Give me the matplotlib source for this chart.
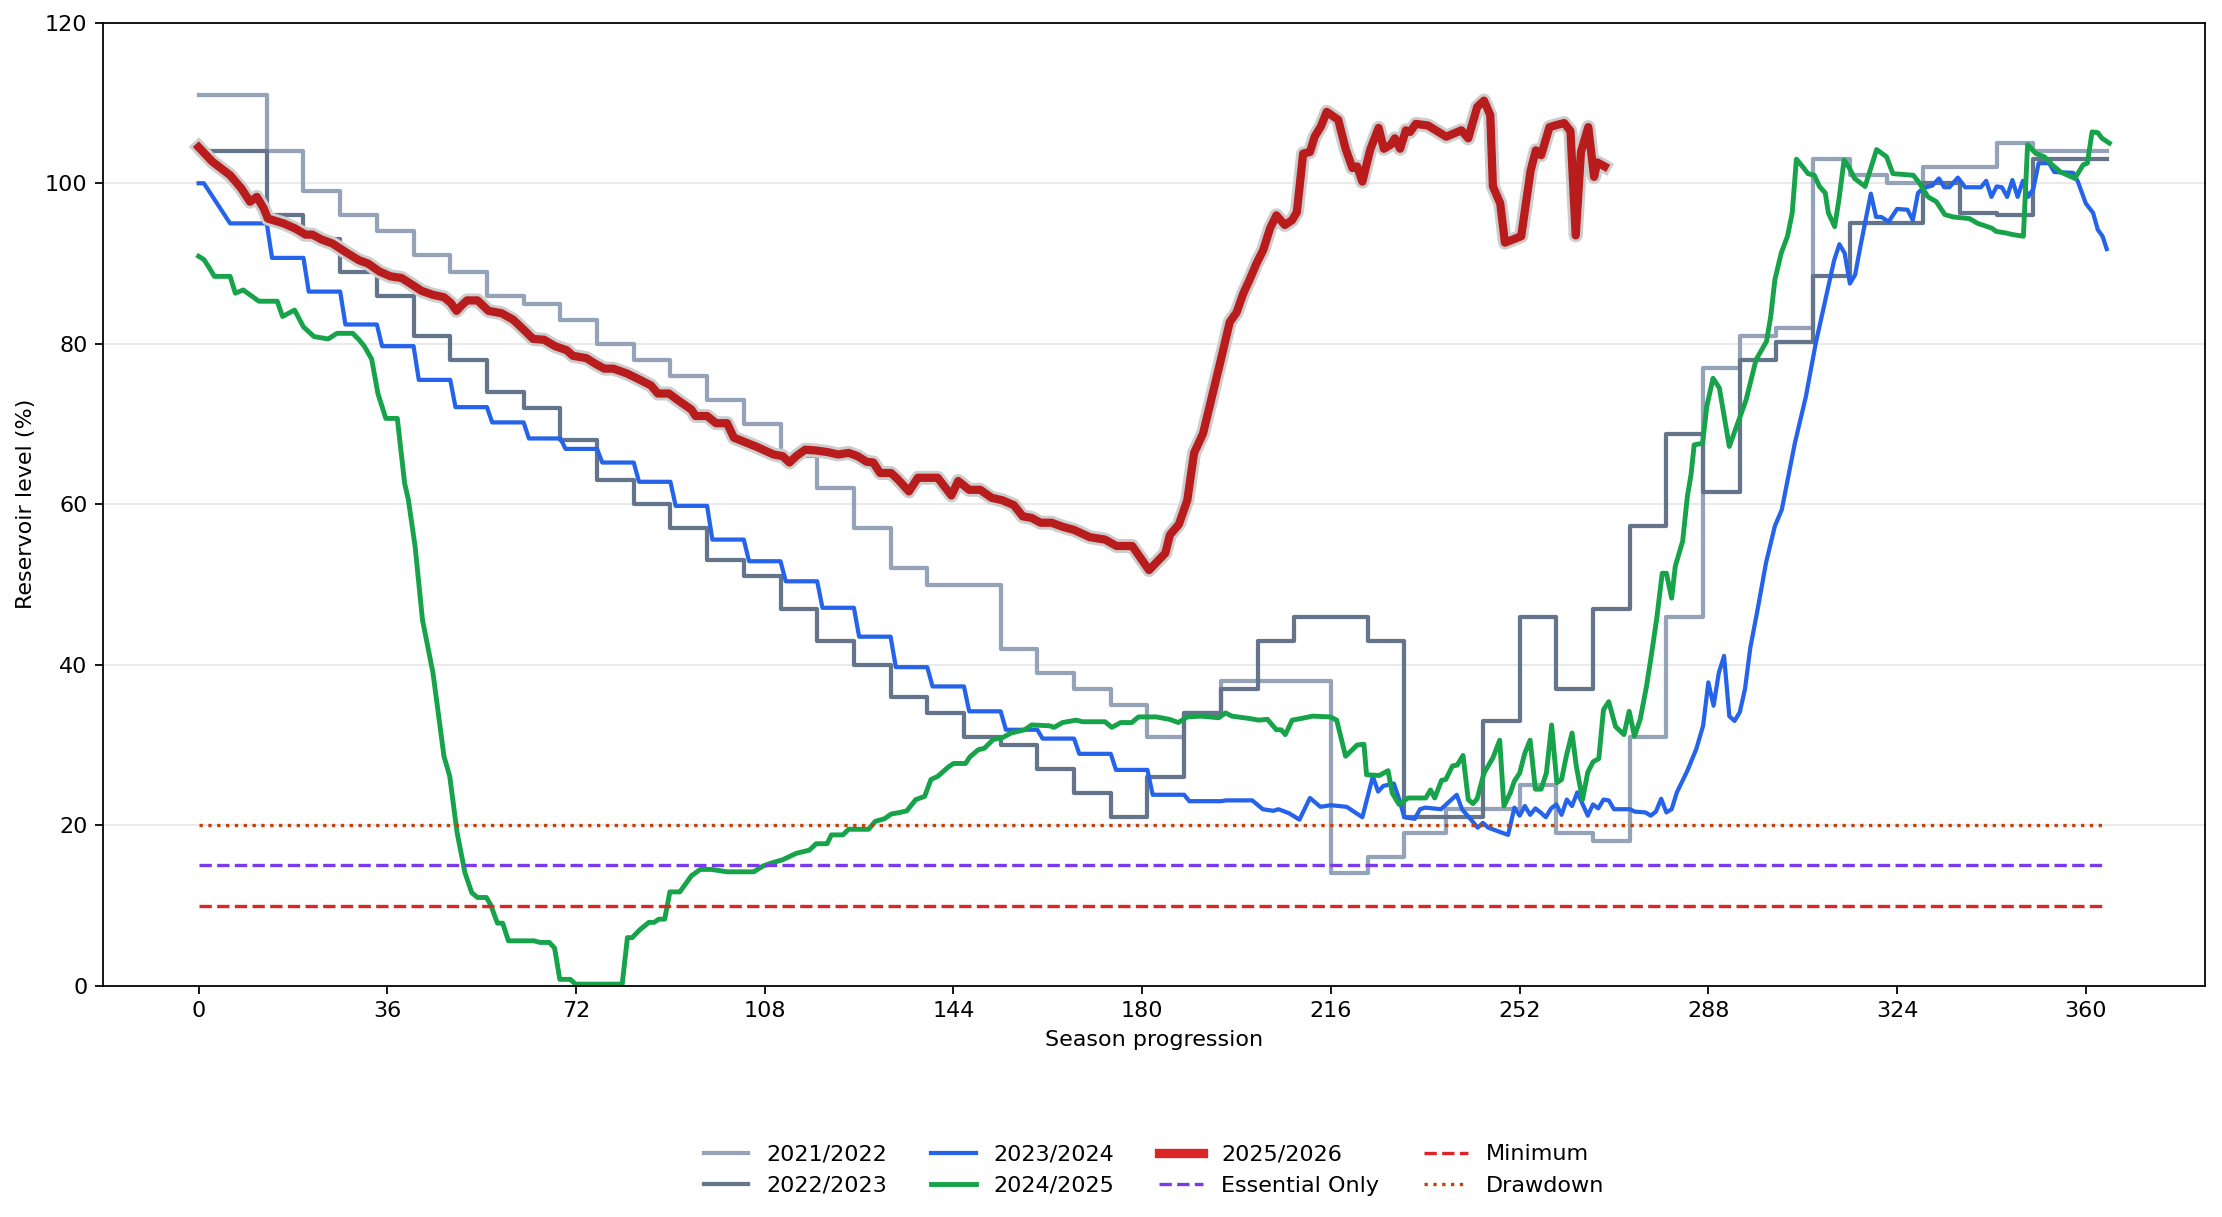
import matplotlib
matplotlib.use("Agg")
import matplotlib.pyplot as plt
import matplotlib.patheffects as pe
from matplotlib.lines import Line2D

# season runs day 0 .. 364
last_day = 364

# 2021/2022 and 2022/2023 were weekly readings -> step lines (start day, level)
days_2122 = [0, 13, 20, 27, 34, 41, 48, 55, 62, 69, 76, 83, 90, 97, 104, 111, 118, 125,
             132, 139, 153, 160, 167, 174, 181, 188, 195, 216, 223, 230, 238, 252, 259,
             266, 273, 280, 287, 294, 301, 308, 315, 322, 329, 343, 350]
level_2122 = [111, 104, 99, 96, 94, 91, 89, 86, 85, 83, 80, 78, 76, 73, 70, 66, 62, 57,
              52, 50, 42, 39, 37, 35, 31, 34, 38, 14, 16, 19, 22, 25, 19,
              18, 31, 46, 77, 81, 82, 103, 101, 100, 102, 105, 104]

days_2223 = [0, 13, 20, 27, 34, 41, 48, 55, 62, 69, 76, 83, 90, 97, 104, 111, 118, 125,
             132, 139, 146, 153, 160, 167, 174, 181, 188, 195, 202, 209, 223, 230, 245,
             252, 259, 266, 273, 280, 287, 294, 301, 308, 315, 329, 336, 343, 350]
level_2223 = [104, 96, 93, 89, 86, 81, 78, 74, 72, 68, 63, 60, 57, 53, 51, 47, 43, 40,
              36, 34, 31, 30, 27, 24, 21, 26, 34, 37, 43, 46, 43, 21, 33,
              46, 37, 47, 57.3, 68.7, 61.5, 78, 80.2, 88.5, 95, 100, 96.3, 96, 103]

days_2324 = [0, 1, 6, 13, 14, 20, 21, 27, 28, 34, 35, 41, 42, 48, 49, 55, 56, 62, 63, 69,
             70, 76, 77, 83, 84, 90, 91, 97, 98, 104, 105, 111, 112, 118, 119, 125, 126, 132,
             133, 139, 140, 146, 147, 153, 154, 160, 161, 167, 168, 174, 175, 181, 182, 188,
             189, 195, 196, 201, 203, 205, 206, 208, 210, 212, 214, 216, 219, 220.6, 222, 224,
             225, 226, 228, 229, 230, 232, 233, 234, 237, 238, 240, 241, 242.6, 244, 245, 246,
             247.7, 249.8, 251, 252, 253, 254, 255, 256, 257, 258, 259, 260, 261, 262, 263,
             265, 266, 267, 268, 269, 270, 273, 274, 276, 277, 278, 279, 280, 281, 282, 284,
             285.7, 287, 288, 289, 290, 291, 292, 293, 294, 295, 296, 297.4, 299, 300.7, 302,
             304.5, 306.6, 308.5, 310.6, 312, 313, 314, 315, 316, 317, 319, 320, 321, 322.4,
             324, 326, 327, 328, 329, 330.7, 332, 333, 334, 335.6, 337, 340, 341, 342, 343,
             344, 345, 346, 347, 348, 349, 350, 351, 353, 354, 357.6, 358.5, 360, 361.4,
             362.3, 363.2, 364]
level_2324 = [100, 100, 95, 95, 90.7, 90.7, 86.5, 86.5, 82.4, 82.4, 79.7, 79.7, 75.5, 75.5,
              72.1, 72.1, 70.2, 70.2, 68.2, 68.2, 66.9, 66.9, 65.2, 65.2, 62.8, 62.8, 59.8,
              59.8, 55.6, 55.6, 52.9, 52.9, 50.4, 50.4, 47.1, 47.1, 43.5, 43.5, 39.7, 39.7,
              37.3, 37.3, 34.2, 34.2, 31.9, 31.9, 30.8, 30.8, 28.9, 28.9, 26.9, 26.9, 23.8,
              23.8, 23.0, 23.0, 23.1, 23.1, 22.0, 21.8, 22.0, 21.5, 20.7, 23.4, 22.3, 22.5,
              22.3, 21.6, 21.0, 26.1, 24.2, 24.9, 25.2, 23.3, 21.0, 20.8, 22.0, 22.2, 22.0,
              22.6, 23.8, 22.0, 20.8, 19.7, 20.3, 19.7, 19.3, 18.8, 22.2, 21.2, 22.4, 21.3,
              22.1, 21.6, 21.0, 22.1, 22.6, 21.3, 23.2, 22.4, 24.1, 21.2, 22.6, 22.1, 23.2,
              23.1, 22.0, 22.0, 21.7, 21.6, 21.2, 21.7, 23.3, 21.6, 22.0, 24.1, 26.8, 29.5,
              32.4, 37.8, 34.9, 39.0, 41.1, 33.6, 33.0, 34.1, 37.0, 42.1, 46.9, 52.7, 57.3,
              59.3, 67.6, 73.4, 80.1, 86.3, 90.4, 92.4, 91.3, 87.5, 88.6, 92.1, 98.7, 95.8,
              95.8, 95.2, 96.8, 96.7, 95.4, 98.8, 99.4, 99.7, 100.6, 99.5, 99.5, 100.7, 99.5,
              99.5, 100.3, 98.3, 99.6, 99.5, 98.3, 100.4, 98.3, 100.3, 98.3, 99.3, 102.5,
              102.5, 101.4, 101.3, 100.2, 97.5, 96.3, 94.2, 93.4, 91.8]

days_2425 = [0, 1, 2, 3, 6, 7, 8.5, 11.5, 15, 16, 18.3, 20, 22, 24.7, 26.4, 29.4, 30.6, 31.6,
             33, 34.2, 35.7, 37.9, 39.3, 40, 41.3, 42.7, 44.7, 46.8, 47.9, 49.3, 50.8, 52.1,
             53.2, 54.9, 55.7, 57, 58, 59.1, 64, 65.1, 66.9, 67.9, 68.9, 70.9, 71.9, 80.8,
             81.8, 82.7, 84.2, 85.9, 86.9, 87.8, 88.9, 89.9, 91.8, 94, 95.7, 97.8, 100.8,
             105.9, 107.6, 109.3, 111.4, 114, 116.5, 117.8, 119.9, 120.7, 122.9, 124, 127.8,
             129.1, 130.8, 132.1, 133.8, 135.1, 136.8, 138.5, 139.7, 141, 143.1, 144, 146.3,
             147.1, 148.7, 149.9, 151.6, 153.3, 155, 157.6, 158.9, 162.3, 163.2, 164.8, 167.4,
             168.6, 172.9, 174.2, 175.9, 178, 179.3, 182.7, 185.2, 186.9, 188.6, 191.2, 194.6,
             195.9, 197.1, 200.5, 202.2, 203.9, 204.8, 205.6, 206.5, 207.3, 208.6, 210.3,
             212.5, 215.9, 217.1, 218.8, 221, 222.3, 222.8, 225.2, 226.9, 227.7, 229, 230.7,
             234.1, 235, 235.8, 237.1, 237.9, 239.2, 240.1, 241.2, 242.2, 243.1, 243.9, 245.2,
             246.9, 248.2, 249, 250.2, 251, 252, 253, 254, 255, 256.1, 257.1, 258.1, 259.1,
             260, 260.9, 262, 262.8, 264, 265, 266, 267.1, 268, 269, 270.3, 271.9, 272.9,
             273.9, 275, 276.2, 277.2, 278.2, 279.2, 280, 281, 281.7, 283.1, 284, 284.7,
             285.3, 286.9, 287.7, 288.9, 290.1, 292, 295.2, 297.1, 299.1, 299.9, 300.7, 301.9,
             303.1, 304, 304.8, 306.2, 307, 308.2, 309.2, 310.3, 310.9, 312.1, 312.9, 313.9,
             314.9, 315.9, 317.9, 320.1, 322, 323.2, 327.1, 328.3, 329.9, 331.5, 333.1, 334.7,
             337.8, 339.4, 342.1, 342.9, 344.8, 346.1, 348.1, 348.9, 350.5, 352.1, 353.6,
             355.2, 357.9, 359.5, 360.3, 361.2, 362.3, 363.1, 364.5]
level_2425 = [90.9, 90.5, 89.5, 88.4, 88.4, 86.3, 86.7, 85.3, 85.3, 83.4, 84.2, 82.1, 80.9,
              80.6, 81.3, 81.3, 80.5, 79.7, 78.1, 73.8, 70.7, 70.7, 62.6, 60.6, 54.7, 45.6,
              39.0, 28.6, 26.1, 19.1, 14.1, 11.6, 11.0, 11.0, 10.1, 7.8, 7.8, 5.6, 5.6, 5.4,
              5.4, 4.7, 0.8, 0.8, 0.2, 0.2, 6.0, 6.0, 7.0, 7.9, 7.9, 8.3, 8.3, 11.7, 11.7,
              13.7, 14.5, 14.5, 14.2, 14.2, 14.9, 15.3, 15.7, 16.5, 16.9, 17.7, 17.7, 18.8,
              18.8, 19.5, 19.5, 20.5, 20.8, 21.4, 21.6, 21.8, 23.2, 23.6, 25.7, 26.1, 27.3,
              27.7, 27.7, 28.5, 29.4, 29.6, 30.7, 30.9, 31.5, 31.9, 32.5, 32.4, 32.2, 32.8,
              33.1, 32.9, 32.9, 32.2, 32.8, 32.8, 33.5, 33.5, 33.2, 32.8, 33.5, 33.6, 33.4,
              34.0, 33.6, 33.3, 33.1, 33.2, 32.5, 31.9, 31.9, 31.3, 33.1, 33.3, 33.6, 33.5,
              33.1, 28.6, 30.0, 30.1, 26.3, 26.2, 26.8, 24.0, 22.6, 23.4, 23.4, 24.4, 23.4,
              25.6, 25.7, 27.4, 27.5, 28.7, 23.2, 22.7, 23.3, 26.5, 28.4, 30.6, 22.4, 24.0,
              25.5, 26.5, 29.0, 30.6, 24.5, 24.5, 26.5, 32.5, 25.3, 25.7, 28.6, 31.5, 27.4,
              23.2, 26.6, 27.9, 28.3, 34.4, 35.4, 32.3, 31.3, 34.2, 31.1, 33.2, 37.3, 41.5,
              46.0, 51.4, 51.4, 48.3, 52.3, 55.4, 61.0, 63.7, 67.4, 67.6, 72.2, 75.7, 74.5,
              67.2, 73.0, 78.0, 80.3, 83.4, 88.0, 91.3, 93.4, 96.3, 103.0, 101.9, 101.2,
              101.0, 99.6, 98.8, 96.3, 94.6, 97.9, 102.9, 101.9, 100.6, 99.6, 104.2, 103.3,
              101.2, 101.0, 100.0, 98.3, 97.7, 96.1, 95.8, 95.6, 95.0, 94.4, 94.0, 93.8,
              93.6, 93.4, 104.8, 103.7, 103.3, 102.3, 101.4, 100.6, 102.3, 102.5, 106.4,
              106.3, 105.6, 105.0]

# current season (partial)
days_2526 = [0, 2.6, 6, 8.1, 9.8, 11.1, 12.4, 13.2, 16.2, 18.3, 20.4, 21.7, 23.4, 25.5, 28.1,
             30.6, 32.3, 34.5, 36.6, 38.7, 40.4, 42.5, 44.7, 46.8, 48.1, 49.2, 50.2, 51.2,
             53.2, 55.3, 57.8, 60, 62.1, 63.8, 65.9, 68, 70.2, 71.4, 74, 75.7, 77.4, 79.1,
             81.7, 84.2, 86.3, 87.6, 89.7, 91.8, 94, 94.8, 97, 98.7, 100.8, 102.1, 106.3,
             109.7, 111.4, 112.7, 114, 115.7, 117.8, 120, 122, 124, 125.7, 127.4, 128.7, 130,
             132.1, 133.4, 135.5, 137.2, 141, 143.6, 144.9, 147, 149.1, 151.3, 153.3, 155.5,
             157.2, 158.9, 160.6, 162.7, 164.8, 167, 170, 172.9, 175.1, 178.1, 181.3, 184.4,
             185.3, 187, 188.6, 189.9, 191.6, 193.3, 195, 196.7, 198, 199.3, 200.5, 201.8,
             203.1, 204.4, 205.6, 207.2, 208.6, 209.5, 210.7, 212, 212.9, 214.1, 215.2, 217.4,
             218.8, 220.1, 221, 222, 223.5, 225.1, 226.1, 227.4, 228.2, 229.2, 230.3, 231.1,
             232.2, 234.5, 238, 240.9, 242.2, 243.9, 245.2, 246.4, 246.9, 248.3, 249.2, 252.3,
             254.1, 255.1, 256.1, 257.7, 259.3, 260.5, 261.7, 262.7, 263.7, 265.1, 266.2,
             266.8, 268.2]
level_2526 = [104.5, 102.7, 101.0, 99.4, 97.7, 98.3, 96.9, 95.6, 95.0, 94.4, 93.6, 93.6,
              93.0, 92.5, 91.4, 90.4, 90.0, 89.0, 88.4, 88.2, 87.5, 86.6, 86.1, 85.8, 85.1,
              84.1, 84.8, 85.4, 85.4, 84.1, 83.8, 83.0, 81.7, 80.6, 80.5, 79.7, 79.2, 78.5,
              78.2, 77.5, 76.9, 76.9, 76.3, 75.5, 74.8, 73.8, 73.8, 72.8, 71.8, 71.0, 71.0,
              70.1, 70.1, 68.3, 67.2, 66.2, 66.0, 65.2, 66.0, 66.8, 66.7, 66.5, 66.2, 66.4,
              66.0, 65.3, 65.2, 63.9, 63.9, 63.1, 61.6, 63.3, 63.3, 61.1, 62.9, 61.8, 61.8,
              60.8, 60.5, 59.9, 58.5, 58.3, 57.7, 57.7, 57.2, 56.8, 55.9, 55.6, 54.8, 54.8,
              51.8, 53.9, 56.2, 57.5, 60.5, 66.4, 68.8, 73.4, 78.0, 82.7, 83.9, 86.3, 88.0,
              90.0, 91.7, 94.4, 96.0, 94.8, 95.4, 96.4, 103.7, 103.9, 105.8, 107.1, 108.9,
              107.9, 104.3, 101.9, 102.1, 100.2, 104.2, 106.9, 104.3, 104.8, 105.6, 104.3,
              106.6, 106.4, 107.4, 107.2, 105.8, 106.6, 105.6, 109.5, 110.3, 108.5, 99.6,
              97.5, 92.6, 93.4, 101.6, 104.1, 103.5, 107.0, 107.3, 107.5, 106.5, 93.5, 103.9,
              107.0, 100.8, 102.6, 102.1]

# operating thresholds (% of capacity)
thresholds = {"Minimum": 10, "Essential Only": 15, "Drawdown": 20}
threshold_styles = {"Minimum": ("#dc2626", "--"),
                    "Essential Only": ("#7c3aed", "--"),
                    "Drawdown": ("#c2410c", ":")}

season_colors = {"2021/2022": "#94a3b8", "2022/2023": "#64748b",
                 "2023/2024": "#2563eb", "2024/2025": "#16a34a",
                 "2025/2026": "#b91c1c"}


fig, ax = plt.subplots(figsize=(13.8875, 7.60625), dpi=160)
fig.subplots_adjust(left=0.0464, right=0.9923, top=0.9813, bottom=0.19)

ax.step(days_2122 + [last_day], level_2122 + [level_2122[-1]], where="post",
        color=season_colors["2021/2022"], lw=1.9)
ax.step(days_2223 + [last_day], level_2223 + [level_2223[-1]], where="post",
        color=season_colors["2022/2023"], lw=1.9)
ax.plot(days_2324, level_2324, color=season_colors["2023/2024"], lw=1.9)
ax.plot(days_2425, level_2425, color=season_colors["2024/2025"], lw=2.2)

for name in ["Minimum", "Essential Only", "Drawdown"]:
    c, ls = threshold_styles[name]
    ax.hlines(thresholds[name], 0, last_day, colors=c, linestyles=ls, lw=1.5)

ax.plot(days_2526, level_2526, color=season_colors["2025/2026"], lw=3.7, zorder=5,
        solid_joinstyle="round",
        path_effects=[pe.Stroke(linewidth=6.3, foreground="#cdcdcd"), pe.Normal()])

ax.set_ylim(0, 120)
ax.set_xticks(range(0, 361, 36))
ax.set_yticks(range(0, 121, 20))
ax.yaxis.grid(True, color="#e8e8e8", lw=0.8)
ax.set_axisbelow(True)
ax.set_xlabel("Season progression")
ax.set_ylabel("Reservoir level (%)")

# legend built by hand so the current season shows without its outline
handles = [
    Line2D([], [], color=season_colors["2021/2022"], lw=1.9, label="2021/2022"),
    Line2D([], [], color=season_colors["2022/2023"], lw=1.9, label="2022/2023"),
    Line2D([], [], color=season_colors["2023/2024"], lw=1.9, label="2023/2024"),
    Line2D([], [], color=season_colors["2024/2025"], lw=2.2, label="2024/2025"),
    Line2D([], [], color="#dc2626", lw=4.2, label="2025/2026"),
]
for name in ["Essential Only", "Minimum", "Drawdown"]:
    c, ls = threshold_styles[name]
    handles.append(Line2D([], [], color=c, ls=ls, lw=1.5, label=name))

ax.legend(handles=handles, loc="upper center", bbox_to_anchor=(0.5, -0.144),
          ncol=4, frameon=False)

plt.savefig("out.png")
